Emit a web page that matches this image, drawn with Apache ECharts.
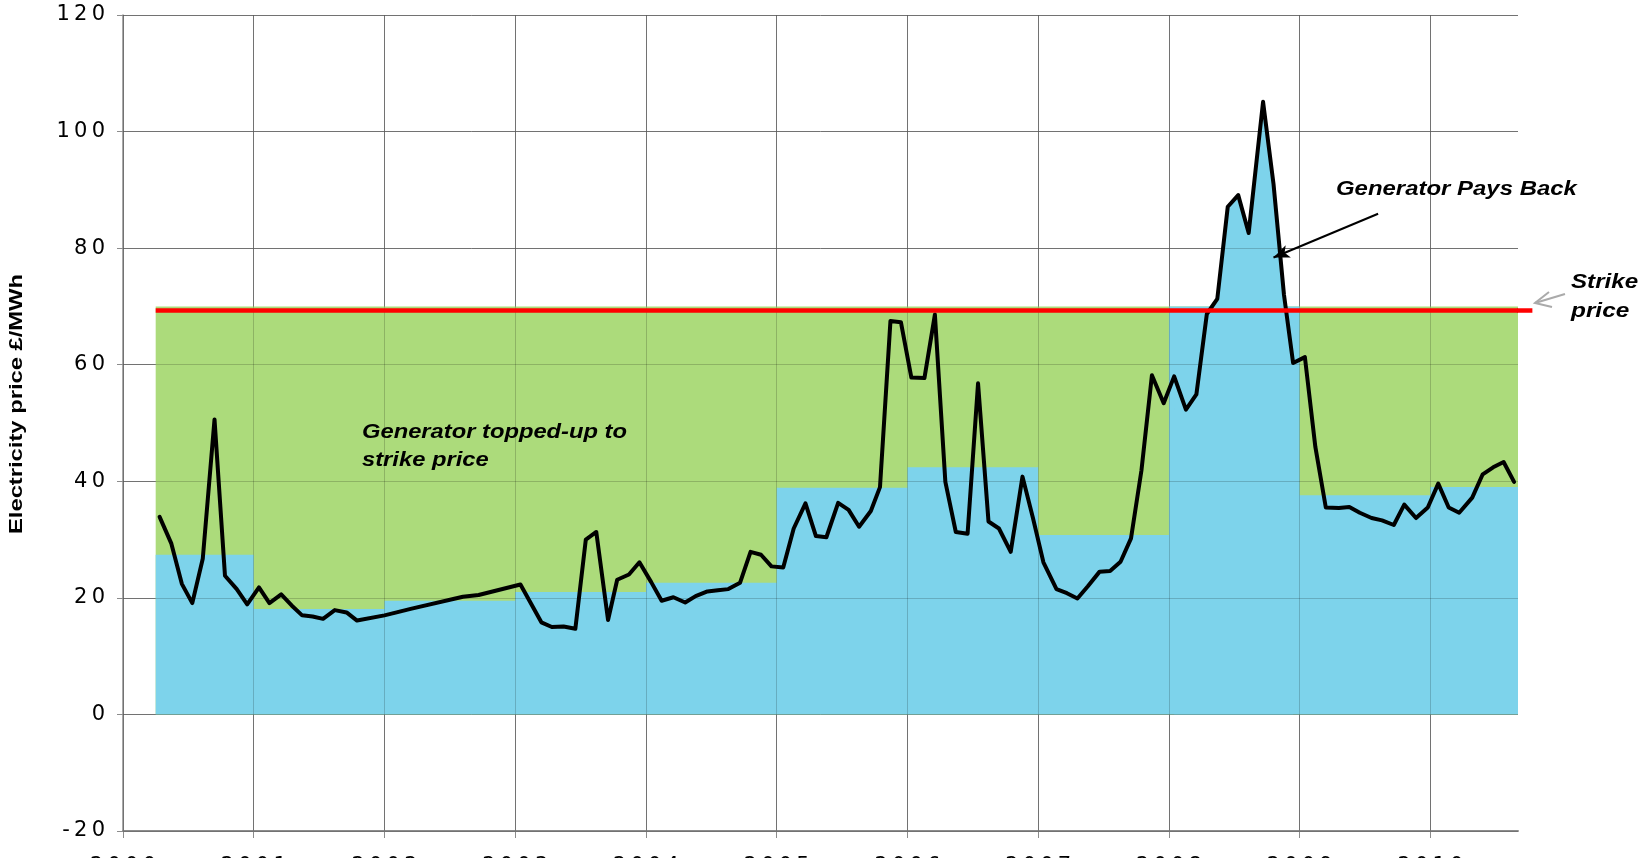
<!DOCTYPE html>
<html>
<head>
<meta charset="utf-8">
<script src="https://cdn.jsdelivr.net/npm/echarts@6/dist/echarts.min.js"></script>
<style>
  html, body { margin: 0; padding: 0; background: #fff; }
  #chart { width: 1639px; height: 866px; }
</style>
</head>
<body>
<div id="chart"></div>
<script>
// strike price and annual (block) reference prices
const strikePrice = 69.3;
const strikeEnd = 2010.78;
const greenTop = 70;
const blockStart = [2000.25, 2001, 2002, 2003, 2004, 2005, 2006, 2007, 2008, 2009, 2010];
const blockEnd = [2001, 2002, 2003, 2004, 2005, 2006, 2007, 2008, 2009, 2010, 2010.67];
const blockPrice = [27.4, 18.1, 19.5, 21.0, 22.6, 38.9, 42.4, 30.8, 70, 37.6, 39.0];

// x tick labels (years)
const yearTicks = [2000, 2001, 2002, 2003, 2004, 2005, 2006, 2007, 2008, 2009, 2010];

// monthly market price (decimal year, £/MWh)
const monthT = [
  2000.28, 2000.37, 2000.45, 2000.53, 2000.61, 2000.70, 2000.78, 2000.87, 2000.95,
  2001.04, 2001.12, 2001.21, 2001.29, 2001.37, 2001.45, 2001.53, 2001.62, 2001.71, 2001.79,
  2002.00, 2002.20, 2002.60, 2002.72,
  2003.04, 2003.20, 2003.28, 2003.37, 2003.46, 2003.54, 2003.62, 2003.71, 2003.78, 2003.87, 2003.95,
  2004.04, 2004.12, 2004.21, 2004.30, 2004.38, 2004.47, 2004.55, 2004.63, 2004.72, 2004.80, 2004.88, 2004.96,
  2005.05, 2005.13, 2005.22, 2005.30, 2005.38, 2005.47, 2005.55, 2005.63, 2005.72, 2005.79, 2005.87, 2005.95,
  2006.03, 2006.13, 2006.21, 2006.29, 2006.37, 2006.46, 2006.54, 2006.62, 2006.70, 2006.79, 2006.88, 2006.96,
  2007.04, 2007.14, 2007.22, 2007.30, 2007.38, 2007.47, 2007.55, 2007.63, 2007.71, 2007.79, 2007.87, 2007.96,
  2008.04, 2008.13, 2008.21, 2008.29, 2008.37, 2008.45, 2008.53, 2008.61, 2008.72, 2008.80, 2008.88, 2008.95,
  2009.04, 2009.12, 2009.20, 2009.30, 2009.38, 2009.46, 2009.55, 2009.63, 2009.72, 2009.80, 2009.89, 2009.98,
  2010.06, 2010.14, 2010.22, 2010.32, 2010.40, 2010.48, 2010.56, 2010.64
];
const monthPrice = [
  33.9, 29.3, 22.4, 19.1, 26.7, 50.6, 23.8, 21.5, 18.9,
  21.8, 19.1, 20.6, 18.7, 17.0, 16.8, 16.4, 17.9, 17.5, 16.1,
  17.0, 18.1, 20.2, 20.5,
  22.3, 15.8, 15.0, 15.1, 14.7, 30.0, 31.3, 16.2, 23.1, 24.0, 26.1,
  22.7, 19.5, 20.1, 19.2, 20.3, 21.1, 21.3, 21.5, 22.6, 27.9, 27.4, 25.4,
  25.2, 31.9, 36.2, 30.6, 30.4, 36.3, 35.1, 32.2, 34.9, 39.0, 67.5, 67.3,
  57.8, 57.7, 68.6, 39.9, 31.3, 31.0, 56.8, 33.1, 31.9, 27.9, 40.8, 33.7,
  26.1, 21.5, 20.8, 19.9, 22.0, 24.5, 24.6, 26.2, 30.2, 41.9, 58.2, 53.4,
  58.0, 52.3, 54.9, 68.7, 71.3, 87.1, 89.1, 82.6, 105.1, 91.0, 72.0, 60.3,
  61.3, 45.9, 35.5, 35.4, 35.6, 34.6, 33.7, 33.3, 32.5, 36.0, 33.7, 35.5,
  39.6, 35.5, 34.6, 37.2, 41.2, 42.4, 43.3, 39.9
];

const xMin = 2000, xMax = 2010.67;
const yMin = -20, yMax = 120, yStep = 20;

const blue = '#7dd3eb';
const green = '#acdb7b';
const gridGray = '#8c8c8c';

let blockData = [];
blockStart.forEach((s, i) => {
  blockData.push([s, blockPrice[i]]);
  blockData.push([blockEnd[i], blockPrice[i]]);
});
let priceData = monthT.map((t, i) => [t, monthPrice[i]]);
let paybackData = priceData.filter(p => p[0] >= 2008 && p[0] < 2009);

// the original labels look letter-spaced
function spaced(v) {
  return String(v).split('').join('\u2009');
}

let chart = echarts.init(document.getElementById('chart'), null, { renderer: 'canvas' });

const labelFont = 'DejaVu Sans';
const noteFont = 'Liberation Sans';

function note(text, x, y, sx) {
  return {
    type: 'text', x: x, y: y, z: 100, scaleX: sx,
    style: {
      text: text, fontFamily: noteFont, fontWeight: 'bold', fontStyle: 'italic',
      fontSize: 21, fill: '#000', textVerticalAlign: 'middle'
    }
  };
}

let option = {
  animation: false,
  grid: { left: 123, right: 121, top: 15, bottom: 35, outerBoundsMode: 'none', containLabel: false },
  xAxis: [{
    type: 'value', min: xMin, max: xMax, interval: 1,
    axisLine: { onZero: false, lineStyle: { color: gridGray, width: 2 } },
    axisTick: { show: true, length: 7, customValues: yearTicks, lineStyle: { color: gridGray } },
    axisLabel: {
      margin: 25, fontFamily: labelFont, fontSize: 21, color: '#000',
      customValues: yearTicks,
      formatter: v => spaced(Math.round(v))
    },
    splitLine: { show: true, lineStyle: { color: gridGray, width: 1 } }
  }, {
    type: 'value', min: xMin, max: xMax, interval: 1, position: 'top', z: 10,
    axisLine: { show: false }, axisTick: { show: false }, axisLabel: { show: false },
    splitLine: { show: true, showMaxLine: false, lineStyle: { color: 'rgba(0,0,0,0.18)', width: 1 } }
  }],
  yAxis: [{
    type: 'value', min: yMin, max: yMax, interval: yStep,
    axisLine: { show: true, lineStyle: { color: gridGray, width: 1.5 } },
    axisTick: { show: true, length: 6, lineStyle: { color: gridGray } },
    axisLabel: { margin: 18, fontFamily: labelFont, fontSize: 21, color: '#000', formatter: v => spaced(v) },
    splitLine: { show: true, lineStyle: { color: gridGray, width: 1 } }
  }, {
    type: 'value', min: yMin, max: yMax, interval: yStep, position: 'right', z: 10,
    axisLine: { show: false }, axisTick: { show: false }, axisLabel: { show: false },
    splitLine: { show: true, lineStyle: { color: 'rgba(0,0,0,0.18)', width: 1 } }
  }],
  series: [
    {
      name: 'top-up', type: 'line', z: 1, symbol: 'none',
      data: [[blockStart[0], greenTop], [xMax, greenTop]],
      lineStyle: { width: 0 }, areaStyle: { color: green, opacity: 1 }
    },
    {
      name: 'reference', type: 'line', z: 2, symbol: 'none',
      data: blockData,
      lineStyle: { width: 0 }, areaStyle: { color: blue, opacity: 1 }
    },
    {
      name: 'payback', type: 'line', z: 3, symbol: 'none',
      data: paybackData,
      lineStyle: { width: 0 }, areaStyle: { color: blue, opacity: 1 }
    },
    {
      name: 'price', type: 'line', z: 20, symbol: 'none',
      data: priceData,
      lineStyle: { color: '#000', width: 4, join: 'round', cap: 'round' }
    },
    {
      name: 'strike', type: 'line', z: 21, symbol: 'none', clip: false,
      data: [[blockStart[0], strikePrice], [xMax, strikePrice]],
      lineStyle: { color: '#ff0000', width: 4.5 },
      markLine: {
        silent: true, symbol: ['none', 'arrow'], symbolSize: [10, 16],
        label: { show: false },
        lineStyle: { color: '#000', width: 2, type: 'solid' },
        data: [[{ coord: [2009.6, 85.9] }, { coord: [2008.8, 78.4] }]]
      }
    }
  ],
  graphic: [
    {
      type: 'text', x: 17, y: 404, z: 100, rotation: Math.PI / 2, scaleX: 1.25,
      style: {
        text: 'Electricity price £/MWh', fontFamily: noteFont, fontWeight: 'bold',
        fontSize: 19, fill: '#000', textAlign: 'center', textVerticalAlign: 'middle'
      }
    },
    note('Generator topped-up to', 362, 432, 1.13),
    note('strike price', 362, 460, 1.13),
    note('Generator Pays Back', 1336, 189, 1.14),
    note('Strike', 1571, 282, 1.15),
    note('price', 1571, 311, 1.16),
    {
      type: 'polyline', z: 100, shape: { points: [[1565, 294], [1535, 303]] },
      style: { stroke: '#aaaaaa', lineWidth: 2, fill: null }
    },
    {
      type: 'polyline', z: 100, shape: { points: [[1549, 292], [1535, 303], [1552, 307]] },
      style: { stroke: '#aaaaaa', lineWidth: 2, fill: null }
    },
    // the source image is cut off just below the year labels
    {
      type: 'rect', z: 200, shape: { x: 0, y: 858, width: 1639, height: 8 },
      style: { fill: '#fff' }
    }
  ]
};

chart.setOption(option);

// the strike line runs a little past the plot edge
let p0 = chart.convertToPixel({ gridIndex: 0 }, [xMax, strikePrice]);
let p1 = chart.convertToPixel({ gridIndex: 0 }, [strikeEnd, strikePrice]);
option.graphic.push({
  type: 'line', z: 100,
  shape: { x1: p0[0] - 1, y1: p0[1], x2: p1[0], y2: p1[1] },
  style: { stroke: '#ff0000', lineWidth: 4.5 }
});
chart.setOption({ graphic: option.graphic });
</script>
</body>
</html>
